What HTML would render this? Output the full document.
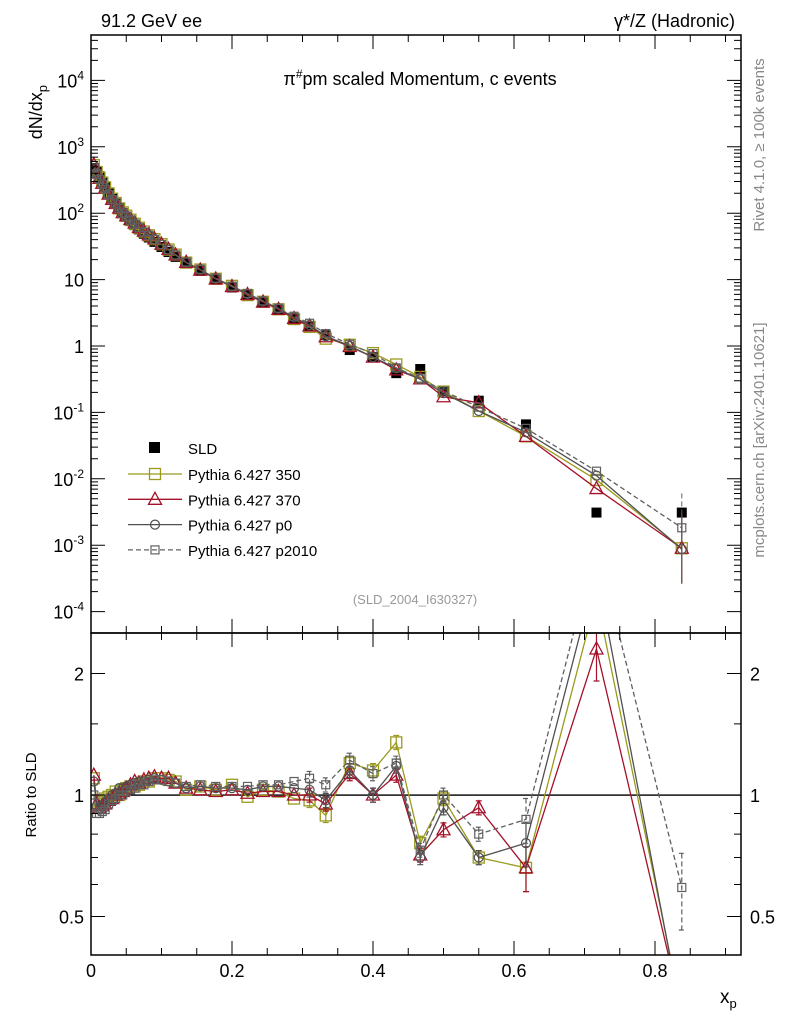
<!DOCTYPE html>
<html><head><meta charset="utf-8"><style>
body{margin:0;background:#fff;font-family:"Liberation Sans",sans-serif}
svg text{font-family:"Liberation Sans","DejaVu Sans",sans-serif}
</style></head><body>
<svg id="c" width="786" height="1024" viewBox="0 0 786 1024" xmlns="http://www.w3.org/2000/svg">
<text x="101" y="27" font-size="18">91.2 GeV ee</text>
<text x="735" y="27" font-size="18" text-anchor="end">γ*/Z (Hadronic)</text>
<text x="420" y="85" font-size="18" text-anchor="middle">π<tspan dy="-7" font-size="12">#</tspan><tspan dy="7">pm scaled Momentum, c events</tspan></text>
<text transform="translate(764,145) rotate(-90)" font-size="15" fill="#888" text-anchor="middle">Rivet 4.1.0, ≥ 100k events</text>
<text transform="translate(764,440) rotate(-90)" font-size="15" fill="#888" text-anchor="middle">mcplots.cern.ch [arXiv:2401.10621]</text>
<text x="415" y="604" font-size="13" fill="#999" text-anchor="middle">(SLD_2004_I630327)</text>
<text transform="translate(42,85) rotate(-90)" font-size="18" text-anchor="end">dN/dx<tspan dy="5" font-size="13">p</tspan></text>
<text transform="translate(36,795) rotate(-90)" font-size="15" text-anchor="middle">Ratio to SLD</text>
<text x="720" y="1003" font-size="19">x<tspan dy="5" font-size="13">p</tspan></text>
<g id="main"></g><g id="ratio"></g><g id="legend"></g>
<rect x="91" y="35" width="650" height="598" fill="none" stroke="#000" stroke-width="1.5"/>
<rect x="91" y="633" width="650" height="322" fill="none" stroke="#000" stroke-width="1.5"/>
</svg>
<script>
const xs=[0.004,0.008,0.012,0.016,0.02,0.025,0.03,0.035,0.04,0.045,0.05,0.056,0.062,0.068,0.075,0.082,0.09,0.1,0.11,0.12,0.135,0.155,0.177,0.2,0.222,0.244,0.266,0.288,0.31,0.333,0.367,0.4,0.433,0.467,0.5,0.55,0.617,0.717,0.838];
const sld=[480,430,360,300,250,200,165,140,118,100,88,76,66,57,49,43,37,31,26,22,17.5,13.5,10,7.6,5.9,4.5,3.5,2.6,2.0,1.45,0.87,0.68,0.39,0.45,0.21,0.15,0.066,0.0031,0.0031];
const r350=[1.1,0.97,0.95,0.96,0.98,0.99,1.0,1.02,1.0,1.03,1.04,1.05,1.05,1.06,1.08,1.08,1.1,1.1,1.09,1.08,1.03,1.05,1.03,1.06,0.99,1.03,1.02,0.98,0.97,0.89,1.2,1.15,1.35,0.76,0.98,0.7,0.66,3.1,0.29];
const r370=[1.12,0.95,0.93,0.94,0.95,0.97,0.98,1.0,1.01,1.02,1.04,1.06,1.08,1.07,1.09,1.1,1.11,1.1,1.1,1.07,1.04,1.03,1.02,1.03,1.01,1.02,1.02,1.0,1.0,0.95,1.13,1.0,1.12,0.71,0.82,0.93,0.66,2.3,0.29];
const rp0=[1.08,0.94,0.92,0.94,0.96,0.98,1.0,1.01,1.04,1.04,1.05,1.06,1.07,1.08,1.08,1.09,1.1,1.09,1.08,1.07,1.04,1.05,1.04,1.04,1.03,1.05,1.05,1.04,1.03,0.97,1.15,1.0,1.18,0.7,0.93,0.7,0.76,3.6,0.28];
const rp2010=[1.0,0.9,0.9,0.91,0.92,0.95,0.97,0.98,1.0,1.0,1.02,1.03,1.04,1.06,1.06,1.08,1.09,1.09,1.08,1.07,1.05,1.06,1.05,1.05,1.05,1.06,1.06,1.08,1.1,1.06,1.22,1.13,1.2,0.73,1.0,0.8,0.87,4.2,0.59];
const yTicks=["10^{-4}","10^{-3}","10^{-2}","10^{-1}","1","10","10^{2}","10^{3}","10^{4}"];
const xTicks=["0","0.2","0.4","0.6","0.8"];
const ns="http://www.w3.org/2000/svg";
const X=v=>91+v*705;
const Y=v=>346-Math.log10(v)*66.4;
const R=v=>795-Math.log2(v)*121.5;
function mk(p,t,a){const e=document.createElementNS(ns,t);for(const k in a)e.setAttribute(k,a[k]);p.appendChild(e);return e;}
const main=document.getElementById('main'),ratio=document.getElementById('ratio'),svg=document.getElementById('c');
for(let d=-4;d<=4;d++){
 for(let m=1;m<10;m++){const v=m*Math.pow(10,d);const y=Y(v);if(y<35||y>633)continue;const L=m==1?14:7;
  const t=mk(svg,'path',{d:`M91 ${y}h${L}M741 ${y}h${-L}`,stroke:'#000','stroke-width':1});
  }
 const lab=yTicks[d+4];const y=Y(Math.pow(10,d));
 const tx=mk(svg,'text',{x:84,y:y+7,'font-size':18,'text-anchor':'end'});
 
 const mm=lab.match(/10\^\{(.*)\}/);
 if(mm){tx.textContent='10';const s=mk(tx,'tspan',{dy:-8,'font-size':12});s.textContent=mm[1];}else tx.textContent=lab;
}
for(let i=0;i<=18;i++){const v=i*0.05;const x=X(v);if(x>741)break;const L=i%4==0?14:7;
 const t=mk(svg,'path',{d:`M${x} 633v${-L}M${x} 35v${L}M${x} 955v${-L}M${x} 633v${L}`,stroke:'#000','stroke-width':1});
 }
xTicks.forEach((l,i)=>{const tx=mk(svg,'text',{x:X(+l),y:977,'font-size':18,'text-anchor':'middle'});tx.textContent=l;
 });
[0.5,1,2].forEach(v=>{const y=R(v);const t=mk(svg,'path',{d:`M91 ${y}h14M741 ${y}h-14`,stroke:'#000'});
 
 [84,750].forEach((x,j)=>{const tx=mk(svg,'text',{x:x,y:y+7,'font-size':18,'text-anchor':j?'start':'end'});tx.textContent=String(v);
 });});
[0.6,0.7,0.8,0.9,1.5].forEach(v=>{const y=R(v);const t=mk(svg,'path',{d:`M91 ${y}h7M741 ${y}h-7`,stroke:'#000'});
 });
mk(svg,'clipPath',{id:'cm'});mk(document.getElementById('cm'),'rect',{x:91,y:35,width:650,height:598});
mk(svg,'clipPath',{id:'cr'});mk(document.getElementById('cr'),'rect',{x:91,y:633,width:650,height:322});
main.setAttribute('clip-path','url(#cm)');ratio.setAttribute('clip-path','url(#cr)');
const ref=mk(ratio,'rect',{x:91,y:R(1)-0.6,width:650,height:1.4,fill:'#000'});

const gs=mk(main,'g',{});
xs.forEach((x,i)=>{const r=mk(gs,'rect',{x:X(x)-5,y:Y(sld[i])-5,width:10,height:10,fill:'#000'});
 });
function marker(g,kind,x,y,col){
 if(kind=='sq') return mk(g,'rect',{x:x-5.5,y:y-5.5,width:11,height:11,fill:'none',stroke:col,'stroke-width':1.3});
 if(kind=='tri') return mk(g,'path',{d:`M${x} ${y-7}L${x+6.5} ${y+5}L${x-6.5} ${y+5}Z`,fill:'none',stroke:col,'stroke-width':1.3});
 if(kind=='circ') return mk(g,'circle',{cx:x,cy:y,r:4.5,fill:'none',stroke:col,'stroke-width':1.2});
 return mk(g,'rect',{x:x-4,y:y-4,width:8,height:8,fill:'none',stroke:col,'stroke-width':1.2});
}
const models=[{n:'350',r:r350,c:'#9a9a1e',k:'sq',dash:''},{n:'370',r:r370,c:'#a5102a',k:'tri',dash:''},{n:'p0',r:rp0,c:'#505050',k:'circ',dash:''},{n:'p2010',r:rp2010,c:'#606060',k:'ssq',dash:'5,3'}];
models.forEach(m=>{
 const gm=mk(main,'g',{});
 const gr=mk(ratio,'g',{});
 const pm=xs.map((x,i)=>X(x)+','+Y(sld[i]*m.r[i])).join(' ');
 const pr=xs.map((x,i)=>X(x)+','+R(m.r[i])).join(' ');
 mk(gm,'polyline',{points:pm,fill:'none',stroke:m.c,'stroke-width':1.3,'stroke-dasharray':m.dash});
 mk(gr,'polyline',{points:pr,fill:'none',stroke:m.c,'stroke-width':1.3,'stroke-dasharray':m.dash});
 xs.forEach((x,i)=>{
  const e=x>0.3?(x>0.6?0.12+0.4*(x-0.6):0.04):0.01;
  const yr=R(m.r[i]);const e1=R(m.r[i]*(1+e)),e2=R(m.r[i]*(1-e));
  if(x>0.3){mk(gr,'path',{d:`M${X(x)} ${e1}V${e2}M${X(x)-3} ${e1}h6M${X(x)-3} ${e2}h6`,stroke:m.c,'stroke-width':1.2,'stroke-dasharray':m.dash});}
  const a=marker(gm,m.k,X(x),Y(sld[i]*m.r[i]),m.c);
  const b=marker(gr,m.k,X(x),yr,m.c);
 });
 const i=xs.length-1,x=X(xs[i]);mk(gm,'path',{d:`M${x} ${Y(sld[i]*m.r[i]*3.3)}V${Y(sld[i]*m.r[i]*0.3)}`,stroke:m.c,'stroke-dasharray':m.dash});
});
const lg=document.getElementById('legend');
const ls=mk(lg,'rect',{x:149,y:442,width:11,height:11,fill:'#000'});
const lt=mk(lg,'text',{x:188,y:454,'font-size':15});lt.textContent='SLD';
models.forEach((m,j)=>{const y=474+j*25.3;
 mk(lg,'line',{x1:128,x2:182,y1:y,y2:y,stroke:m.c,'stroke-width':1.3,'stroke-dasharray':m.dash});
 const a=marker(lg,m.k,155,y,m.c);
 const t=mk(lg,'text',{x:188,y:y+6,'font-size':15});t.textContent='Pythia 6.427 '+m.n;
 });
</script>
</body></html>
